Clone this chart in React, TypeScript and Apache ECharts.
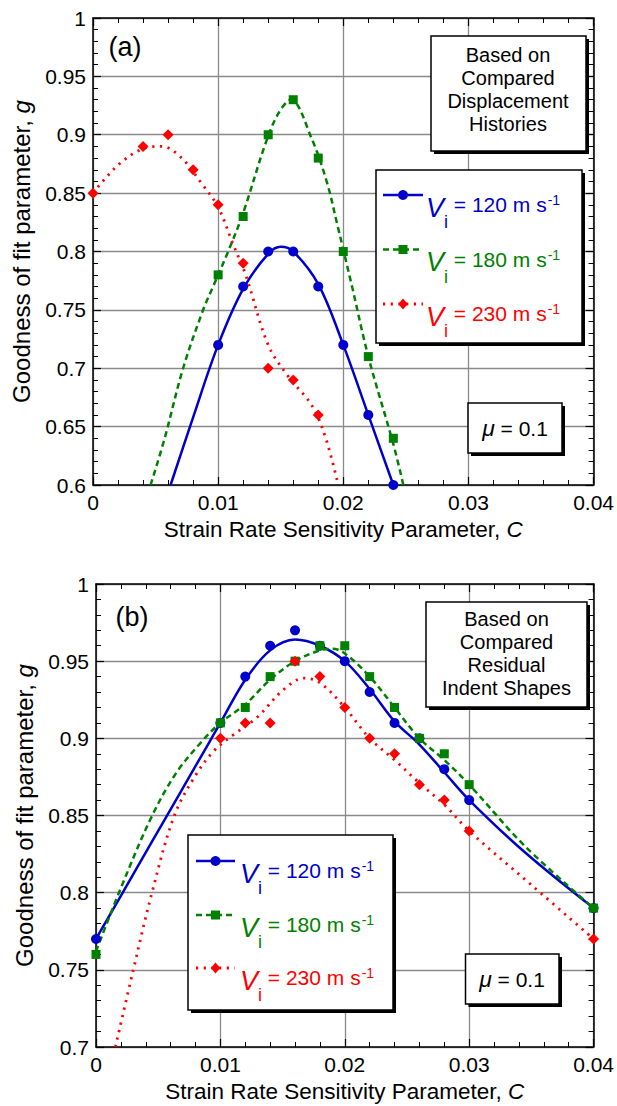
import React, { useEffect, useRef } from "react";
import * as echarts from "echarts";

// ---------- data ----------
// Panel (a): based on compared displacement histories
const ptsA120: [number, number][] = [[0.01, 0.72], [0.012, 0.77], [0.014, 0.8], [0.016, 0.8], [0.018, 0.77], [0.02, 0.72], [0.022, 0.66], [0.024, 0.6]];
const ptsA180: [number, number][] = [[0.01, 0.78], [0.012, 0.83], [0.014, 0.9], [0.016, 0.93], [0.018, 0.88], [0.02, 0.8], [0.022, 0.71], [0.024, 0.64]];
const ptsA230: [number, number][] = [[0, 0.85], [0.004, 0.89], [0.006, 0.9], [0.008, 0.87], [0.01, 0.84], [0.012, 0.79], [0.014, 0.7], [0.016, 0.69], [0.018, 0.66]];
// fitted curves (a)
const fitA120: [number, number][] = [[0.0062, 0.6], [0.008, 0.658], [0.01, 0.72], [0.012, 0.768], [0.014, 0.798], [0.015, 0.804], [0.016, 0.8], [0.018, 0.772], [0.02, 0.72], [0.022, 0.66], [0.024, 0.6]];
const fitA180: [number, number][] = [[0.0046, 0.6], [0.0057, 0.639], [0.0072, 0.7], [0.0088, 0.75], [0.0096, 0.77], [0.0108, 0.8], [0.012, 0.833], [0.0138, 0.893], [0.0148, 0.918], [0.0158, 0.93], [0.0175, 0.896], [0.0187, 0.859], [0.0195, 0.824], [0.0207, 0.77], [0.022, 0.71], [0.024, 0.635], [0.0248, 0.6]];
const fitA230: [number, number][] = [[0, 0.85], [0.002, 0.874], [0.004, 0.888], [0.0055, 0.89], [0.007, 0.881], [0.0087, 0.858], [0.01, 0.838], [0.0112, 0.806], [0.0122, 0.78], [0.014, 0.72], [0.0156, 0.693], [0.0175, 0.668], [0.0186, 0.64], [0.0196, 0.6]];

// Panel (b): based on compared residual indent shapes
const ptsB120: [number, number][] = [[0, 0.77], [0.01, 0.91], [0.012, 0.94], [0.014, 0.96], [0.016, 0.97], [0.018, 0.96], [0.02, 0.95], [0.022, 0.93], [0.024, 0.91], [0.026, 0.9], [0.028, 0.88], [0.03, 0.86], [0.04, 0.79]];
const ptsB180: [number, number][] = [[0, 0.76], [0.01, 0.91], [0.012, 0.92], [0.014, 0.94], [0.016, 0.95], [0.018, 0.96], [0.02, 0.96], [0.022, 0.94], [0.024, 0.92], [0.026, 0.9], [0.028, 0.89], [0.03, 0.87], [0.04, 0.79]];
const ptsB230: [number, number][] = [[0.01, 0.9], [0.012, 0.91], [0.014, 0.91], [0.016, 0.95], [0.018, 0.94], [0.02, 0.92], [0.022, 0.9], [0.024, 0.89], [0.026, 0.87], [0.028, 0.86], [0.03, 0.84], [0.04, 0.77]];
// fitted curves (b)
const fitB120: [number, number][] = [[0, 0.77], [0.003, 0.812], [0.006, 0.854], [0.009, 0.896], [0.01, 0.91], [0.012, 0.938], [0.014, 0.957], [0.016, 0.964], [0.018, 0.96], [0.02, 0.95], [0.022, 0.932], [0.024, 0.911], [0.026, 0.896], [0.028, 0.878], [0.03, 0.86], [0.0345, 0.826], [0.04, 0.79]];
const fitB180: [number, number][] = [[0, 0.762], [0.002, 0.803], [0.0044, 0.848], [0.0064, 0.877], [0.0084, 0.897], [0.01, 0.91], [0.012, 0.922], [0.014, 0.938], [0.016, 0.95], [0.018, 0.957], [0.019, 0.958], [0.02, 0.955], [0.022, 0.94], [0.024, 0.92], [0.026, 0.9], [0.028, 0.886], [0.03, 0.87], [0.0345, 0.83], [0.04, 0.79]];
const fitB230: [number, number][] = [[0.00156, 0.7], [0.003, 0.75], [0.0045, 0.8], [0.0063, 0.85], [0.008, 0.876], [0.0095, 0.892], [0.011, 0.902], [0.013, 0.914], [0.015, 0.931], [0.0167, 0.939], [0.018, 0.936], [0.02, 0.92], [0.022, 0.9], [0.024, 0.886], [0.026, 0.871], [0.028, 0.857], [0.03, 0.84], [0.035, 0.805], [0.04, 0.77]];

const speeds = ["120", "180", "230"];
const titleA = ["Based on", "Compared", "Displacement", "Histories"];
const titleB = ["Based on", "Compared", "Residual", "Indent Shapes"];
const xName = "Strain Rate Sensitivity Parameter, ";
const yName = "Goodness of fit parameter, ";

// ---------- styles ----------
const FONT = '"Liberation Sans", Arial, Helvetica, sans-serif';
const BLUE = "#0000cc";
const GREEN = "#008000";
const RED = "#ff0000";
const COLORS = [BLUE, GREEN, RED];
const LINE_TYPES: any[] = ["solid", [6, 4], [2.2, 5.5]];
const SYMBOLS = ["circle", "rect", "diamond"];
const SYM_SIZES = [10, 9, 11];

const fmt = (v: number) => String(+v.toFixed(3));

function makeX(grid: number, top: boolean): any {
  return {
    type: "value",
    gridIndex: grid,
    position: top ? "top" : "bottom",
    min: 0,
    max: 0.04,
    interval: 0.01,
    axisLine: { show: true, onZero: false, lineStyle: { color: "#000", width: 1.5 } },
    axisTick: { show: true, inside: true, length: 8, lineStyle: { color: "#000", width: 1.2 } },
    minorTick: { show: true, splitNumber: 5, length: 5, lineStyle: { color: "#000", width: 1 } },
    splitLine: { show: !top, lineStyle: { color: "#8a8a8a", width: 1.3 } },
    axisLabel: top
      ? { show: false }
      : { show: true, color: "#000", fontSize: 21, fontFamily: FONT, margin: 7, formatter: fmt },
    name: top ? "" : xName + "{i|C}",
    nameLocation: "middle",
    nameGap: 33,
    nameTextStyle: {
      color: "#000",
      fontSize: 22.5,
      fontFamily: FONT,
      rich: { i: { fontStyle: "italic", fontSize: 22.5, fontFamily: FONT, color: "#000" } },
    },
  };
}

function makeY(grid: number, right: boolean, min: number): any {
  return {
    type: "value",
    gridIndex: grid,
    position: right ? "right" : "left",
    min,
    max: 1,
    interval: 0.05,
    axisLine: { show: true, onZero: false, lineStyle: { color: "#000", width: 1.5 } },
    axisTick: { show: true, inside: true, length: 8, lineStyle: { color: "#000", width: 1.2 } },
    minorTick: { show: true, splitNumber: 5, length: 5, lineStyle: { color: "#000", width: 1 } },
    splitLine: { show: !right, lineStyle: { color: "#8a8a8a", width: 1.3 } },
    axisLabel: right
      ? { show: false }
      : { show: true, color: "#000", fontSize: 21, fontFamily: FONT, margin: 7, formatter: fmt },
    name: right ? "" : yName + "{i|g}",
    nameLocation: "middle",
    nameGap: 60,
    nameTextStyle: {
      color: "#000",
      fontSize: 24,
      fontFamily: FONT,
      rich: { i: { fontStyle: "italic", fontSize: 24, fontFamily: FONT, color: "#000" } },
    },
  };
}

function curve(data: [number, number][], k: number, xi: number, yi: number): any {
  return {
    type: "line",
    xAxisIndex: xi,
    yAxisIndex: yi,
    data,
    smooth: 0.35,
    showSymbol: false,
    symbol: "none",
    lineStyle: { color: COLORS[k], width: k === 2 ? 2.8 : 2.5, type: LINE_TYPES[k] },
    silent: true,
    z: 2,
  };
}

function points(data: [number, number][], k: number, xi: number, yi: number): any {
  return {
    type: "scatter",
    xAxisIndex: xi,
    yAxisIndex: yi,
    data,
    symbol: SYMBOLS[k],
    symbolSize: SYM_SIZES[k],
    itemStyle: { color: COLORS[k], opacity: 1 },
    z: 3,
  };
}

function box(x: number, y: number, w: number, h: number): any[] {
  return [
    { type: "rect", z: 20, shape: { x: x + 3, y: y + 3, width: w, height: h }, style: { fill: "#000" } },
    { type: "rect", z: 21, shape: { x, y, width: w, height: h }, style: { fill: "#fff", stroke: "#000", lineWidth: 1.5 } },
  ];
}

function text(x: number, y: number, str: string, size: number, extra: any = {}): any {
  return {
    type: "text",
    z: 22,
    x,
    y,
    style: {
      text: str,
      fontSize: size,
      fontFamily: FONT,
      fill: "#000",
      align: "center",
      verticalAlign: "middle",
      textAlign: "center",
      textVerticalAlign: "middle",
      ...extra,
    },
  };
}

function legend(lineX1: number, lineX2: number, textX: number, ys: number[]): any[] {
  const els: any[] = [];
  ys.forEach((y, k) => {
    const c = COLORS[k];
    els.push({
      type: "line",
      z: 22,
      shape: { x1: lineX1, y1: y, x2: lineX2, y2: y },
      style: { stroke: c, lineWidth: k === 2 ? 2.8 : 2.5, lineDash: k === 0 ? null : LINE_TYPES[k] },
    });
    const mx = (lineX1 + lineX2) / 2;
    if (k === 0) els.push({ type: "circle", z: 23, shape: { cx: mx, cy: y, r: 5 }, style: { fill: c } });
    if (k === 1) els.push({ type: "rect", z: 23, shape: { x: mx - 4.5, y: y - 4.5, width: 9, height: 9 }, style: { fill: c } });
    if (k === 2)
      els.push({
        type: "polygon",
        z: 23,
        shape: { points: [[mx, y - 5.5], [mx + 4.7, y], [mx, y + 5.5], [mx - 4.7, y]] },
        style: { fill: c },
      });
    els.push({
      type: "text",
      z: 23,
      x: textX,
      y: y + 12,
      style: {
        text: "{v|V}{s|i}{t| = " + speeds[k] + " m s}{p|-1}",
        align: "left",
        verticalAlign: "middle",
        textAlign: "left",
        textVerticalAlign: "middle",
        fill: c,
        fontFamily: FONT,
        fontSize: 21,
        rich: {
          v: { fontSize: 27, fontStyle: "italic", fontFamily: FONT, fill: c, lineHeight: 28, padding: [1, 0, 0, 0], verticalAlign: "top" },
          s: { fontSize: 18, fontFamily: FONT, fill: c, lineHeight: 18, padding: [20, 0, 0, 0], verticalAlign: "top" },
          t: { fontSize: 21, fontFamily: FONT, fill: c, lineHeight: 28, padding: [1, 0, 0, 0], verticalAlign: "top" },
          p: { fontSize: 14, fontFamily: FONT, fill: c, lineHeight: 14, padding: [0, 0, 0, 1], verticalAlign: "top" },
        },
      },
    });
  });
  return els;
}

function muText(cx: number, cy: number): any {
  return {
    type: "text",
    z: 23,
    x: cx,
    y: cy,
    style: {
      text: "{m|μ}{t| = 0.1}",
      align: "center",
      verticalAlign: "middle",
      textAlign: "center",
      textVerticalAlign: "middle",
      fill: "#000",
      fontFamily: FONT,
      fontSize: 21,
      rich: {
        m: { fontSize: 23, fontStyle: "italic", fontFamily: FONT, fill: "#000" },
        t: { fontSize: 21, fontFamily: FONT, fill: "#000" },
      },
    },
  };
}

export default function App() {
  const ref = useRef<HTMLDivElement>(null);
  useEffect(() => {
    if (!ref.current) return;
    const chart = echarts.init(ref.current, undefined, { renderer: "svg" });
    const graphics: any[] = [
      // panel (a)
      text(125, 47, "(a)", 27),
      ...box(431, 36, 155, 115),
      text(508, 89, titleA.join("\n"), 20, { lineHeight: 23 }),
      ...box(376, 170, 206, 173),
      ...legend(383, 423, 426, [195, 249.5, 304]),
      ...box(468, 403, 94, 50),
      muText(515, 428),
      // panel (b)
      text(132, 617, "(b)", 27),
      ...box(426, 602, 161, 105),
      text(506.5, 653, titleB.join("\n"), 20, { lineHeight: 23 }),
      ...box(188, 835, 205, 175),
      ...legend(196, 235, 240, [861, 915, 968]),
      ...box(465.5, 954, 93.5, 50),
      muText(512, 979),
    ];
    chart.setOption({
      animation: false,
      backgroundColor: "#fff",
      textStyle: { fontFamily: FONT },
      grid: [
        { left: 93, top: 18, width: 507, height: 467, containLabel: false },
        { left: 96, top: 584, width: 506, height: 463, containLabel: false },
      ],
      xAxis: [makeX(0, false), makeX(0, true), makeX(1, false), makeX(1, true)],
      yAxis: [makeY(0, false, 0.6), makeY(0, true, 0.6), makeY(1, false, 0.7), makeY(1, true, 0.7)],
      series: [
        curve(fitA120, 0, 0, 0),
        curve(fitA180, 1, 0, 0),
        curve(fitA230, 2, 0, 0),
        points(ptsA120, 0, 0, 0),
        points(ptsA180, 1, 0, 0),
        points(ptsA230, 2, 0, 0),
        curve(fitB120, 0, 2, 2),
        curve(fitB180, 1, 2, 2),
        curve(fitB230, 2, 2, 2),
        points(ptsB120, 0, 2, 2),
        points(ptsB180, 1, 2, 2),
        points(ptsB230, 2, 2, 2),
      ],
      graphic: { elements: graphics },
    });
    return () => chart.dispose();
  }, []);
  return (
    <div
      ref={ref}
      style={{ position: "absolute", left: 0, top: 0, width: 617, height: 1106, background: "#fff" }}
    />
  );
}
